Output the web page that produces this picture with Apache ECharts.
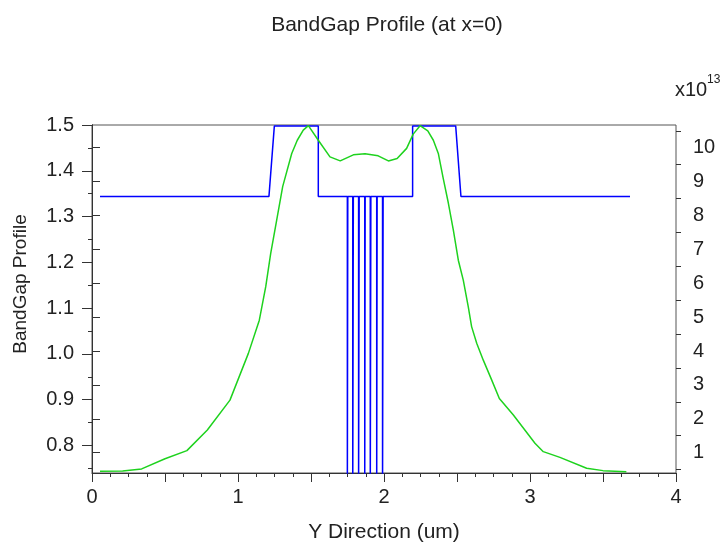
<!DOCTYPE html>
<html>
<head>
<meta charset="utf-8">
<script src="https://cdn.jsdelivr.net/npm/echarts@6/dist/echarts.min.js"></script>
<style>
  html, body { margin: 0; padding: 0; background: #fff; }
  #chart { width: 724px; height: 543px; }
</style>
</head>
<body>
<div id="chart"></div>
<script>
// Band gap (eV) along the Y direction, x = 0 cut; narrow wells drop below the axis
const bandGap = [
  [0.055, 1.344], [1.212, 1.344], [1.249, 1.498], [1.55, 1.498], [1.55, 1.344],
  [1.749, 1.344], [1.749, 0.70], [1.752, 0.70], [1.752, 1.344],
  [1.786, 1.344], [1.786, 0.70], [1.790, 0.70], [1.790, 1.344],
  [1.826, 1.344], [1.826, 0.70], [1.830, 0.70], [1.830, 1.344],
  [1.868, 1.344], [1.868, 0.70], [1.871, 0.70], [1.871, 1.344],
  [1.906, 1.344], [1.906, 0.70], [1.910, 0.70], [1.910, 1.344],
  [1.950, 1.344], [1.950, 0.70], [1.953, 0.70], [1.953, 1.344],
  [1.990, 1.344], [1.990, 0.70], [1.994, 0.70], [1.994, 1.344],
  [2.196, 1.344], [2.196, 1.498], [2.491, 1.498], [2.527, 1.344], [3.685, 1.344]
];

// Second profile, right axis, in units of 1e13
const profile = [
  [0.055, 0.45], [0.21, 0.46], [0.34, 0.52], [0.50, 0.82], [0.65, 1.06],
  [0.79, 1.67], [0.945, 2.55], [1.071, 3.93], [1.146, 4.91], [1.190, 5.90],
  [1.224, 6.88], [1.265, 7.86], [1.306, 8.85], [1.368, 9.83], [1.406, 10.22],
  [1.447, 10.52], [1.482, 10.65], [1.55, 10.22], [1.63, 9.73], [1.70, 9.61],
  [1.79, 9.79], [1.87, 9.82], [1.96, 9.76], [2.03, 9.61], [2.09, 9.68],
  [2.155, 9.98], [2.20, 10.40], [2.247, 10.65], [2.30, 10.50], [2.338, 10.22],
  [2.372, 9.83], [2.406, 9.09], [2.441, 8.36], [2.475, 7.57], [2.509, 6.68],
  [2.543, 6.09], [2.577, 5.31], [2.60, 4.72], [2.635, 4.23], [2.68, 3.73],
  [2.738, 3.14], [2.79, 2.60], [2.886, 2.11], [3.034, 1.28], [3.091, 1.03],
  [3.205, 0.86], [3.388, 0.54], [3.50, 0.47], [3.66, 0.44]
];

// Axis ticks
const xTicks = [0, 1, 2, 3, 4];
const xMidTicks = [0, 0.5, 1, 1.5, 2, 2.5, 3, 3.5, 4];
const leftTicks = [0.8, 0.9, 1.0, 1.1, 1.2, 1.3, 1.4, 1.5];
const rightTicks = [1, 2, 3, 4, 5, 6, 7, 8, 9, 10];

const X_RANGE = [0, 4];
const LEFT_RANGE = [0.74, 1.5];
const RIGHT_RANGE = [0.4, 10.67];

const minorX = [];
for (let i = 0; i <= 32; i++) minorX.push(i * 0.125);
const minorLeft = [];
for (let v = 0.75; v < 1.5; v += 0.1) minorLeft.push(+v.toFixed(2));
const minorRight = [];
for (let v = 0.5; v < 10.67; v += 1) minorRight.push(v);

const FONT = 'Liberation Sans, Arial, sans-serif';
const TXT = '#222';
const AX = '#333';

const chart = echarts.init(document.getElementById('chart'), null, { renderer: 'canvas' });

function minorAxis(pos, range, values, len) {
  return {
    type: 'value', position: pos, min: range[0], max: range[1],
    axisLine: { show: false }, splitLine: { show: false },
    axisLabel: { show: false },
    axisTick: { show: true, customValues: values, length: len, lineStyle: { color: AX } }
  };
}

chart.setOption({
  animation: false,
  backgroundColor: '#fff',
  title: {
    text: 'BandGap Profile (at x=0)',
    left: 382, top: 10, textAlign: 'center',
    textStyle: { fontFamily: FONT, fontSize: 21, fontWeight: 'normal', color: TXT }
  },
  grid: {
    left: 92, right: 48, top: 125, bottom: 70,
    containLabel: false, outerBoundsMode: 'none',
    show: true, borderColor: '#555', borderWidth: 1, backgroundColor: 'transparent'
  },
  xAxis: [
    {
      type: 'value', position: 'bottom', min: X_RANGE[0], max: X_RANGE[1],
      name: 'Y Direction (um)', nameLocation: 'middle', nameGap: 49,
      nameTextStyle: { fontFamily: FONT, fontSize: 21, color: TXT },
      axisLine: { show: true, lineStyle: { color: AX } },
      splitLine: { show: false },
      axisTick: { show: true, customValues: xMidTicks, length: 9, lineStyle: { color: AX } },
      axisLabel: { customValues: xTicks, margin: 14, fontFamily: FONT, fontSize: 20, color: TXT }
    },
    minorAxis('bottom', X_RANGE, minorX, 4)
  ],
  yAxis: [
    {
      type: 'value', position: 'left', min: LEFT_RANGE[0], max: LEFT_RANGE[1],
      axisLine: { show: true, lineStyle: { color: AX } },
      splitLine: { show: false },
      axisTick: { show: true, customValues: leftTicks, length: 10, lineStyle: { color: AX } },
      axisLabel: {
        customValues: leftTicks, margin: 18, fontFamily: FONT, fontSize: 20, color: TXT,
        formatter: v => v.toFixed(1)
      }
    },
    {
      type: 'value', position: 'right', min: RIGHT_RANGE[0], max: RIGHT_RANGE[1],
      axisLine: { show: true, lineStyle: { color: AX } },
      splitLine: { show: false },
      axisTick: { show: true, customValues: rightTicks, length: 8, lineStyle: { color: AX } },
      axisLabel: { customValues: rightTicks, margin: 17, fontFamily: FONT, fontSize: 20, color: TXT }
    },
    minorAxis('left', LEFT_RANGE, minorLeft, 4),
    minorAxis('right', RIGHT_RANGE, minorRight, 5)
  ],
  graphic: [
    {
      type: 'text', x: 21, y: 284, rotation: Math.PI / 2,
      style: { text: 'BandGap Profile', font: '19px ' + FONT, fill: TXT, align: 'center', verticalAlign: 'middle' }
    },
    { type: 'text', left: 675, top: 80, style: { text: 'x10', font: '20px ' + FONT, fill: TXT } },
    { type: 'text', left: 707, top: 74, style: { text: '13', font: '12px ' + FONT, fill: TXT } }
  ],
  series: [
    {
      name: 'BandGap', type: 'line', xAxisIndex: 0, yAxisIndex: 0,
      data: bandGap, showSymbol: false, symbol: 'none', clip: true,
      lineStyle: { color: '#0000ff', width: 1.5 }, z: 3
    },
    {
      name: 'Profile', type: 'line', xAxisIndex: 0, yAxisIndex: 1,
      data: profile, showSymbol: false, symbol: 'none', clip: true,
      lineStyle: { color: '#1ed21e', width: 1.5 }, z: 4
    }
  ]
});
</script>
</body>
</html>
